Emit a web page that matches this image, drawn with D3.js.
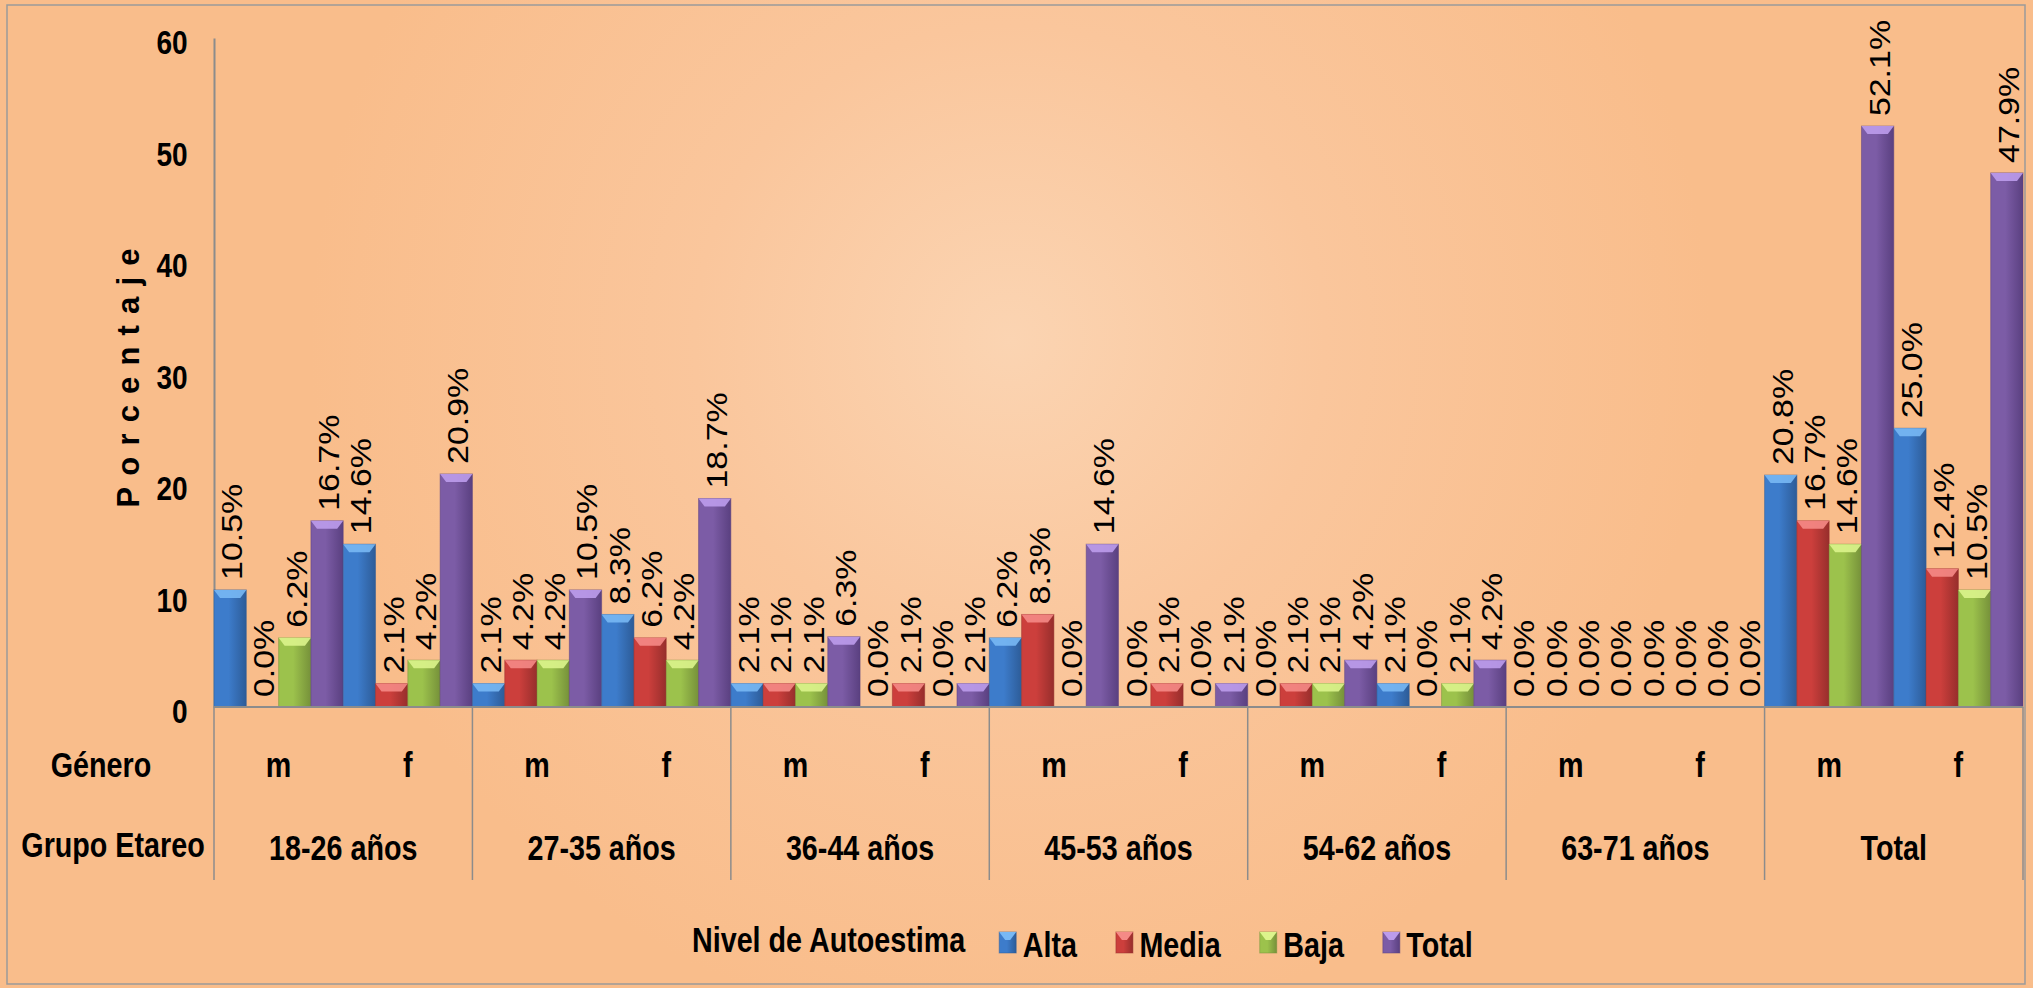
<!DOCTYPE html>
<html>
<head>
<meta charset="UTF-8">
<title>Nivel de Autoestima</title>
<style>
body { margin: 0; background: #f9bf8e; }
svg { display: block; font-family: 'Liberation Sans', Arial, sans-serif; }
</style>
</head>
<body>
<script src="https://cdn.jsdelivr.net/npm/d3@7"></script>
<script>
// categories
var grupos = ['18-26 años', '27-35 años', '36-44 años', '45-53 años', '54-62 años', '63-71 años', 'Total'];
var generos = ['m', 'f'];
var niveles = ['Alta', 'Media', 'Baja', 'Total'];
// values per (grupo, genero), in order 18-26 m, 18-26 f, 27-35 m, ...
var alta  = [10.5, 14.6, 2.1, 8.3, 2.1, 0.0, 6.2, 0.0, 0.0, 2.1, 0.0, 0.0, 20.8, 25.0];
var media = [0.0, 2.1, 4.2, 6.2, 2.1, 2.1, 8.3, 2.1, 2.1, 0.0, 0.0, 0.0, 16.7, 12.4];
var baja  = [6.2, 4.2, 4.2, 4.2, 2.1, 0.0, 0.0, 0.0, 2.1, 2.1, 0.0, 0.0, 14.6, 10.5];
var total = [16.7, 20.9, 10.5, 18.7, 6.3, 2.1, 14.6, 2.1, 4.2, 4.2, 0.0, 0.0, 52.1, 47.9];
var yTicks = [0, 10, 20, 30, 40, 50, 60];

var W = 2033, H = 988;
var plotLeft = 214, plotRight = 2023, plotTop = 38, zero = 707;
var colors = {
  Alta:  { base: '#3d7ccb', light: '#78b8f4', dark: '#2d5c98' },
  Media: { base: '#cc3f3c', light: '#f58a86', dark: '#972e2c' },
  Baja:  { base: '#9cc24c', light: '#dcf48c', dark: '#76913a' },
  Total: { base: '#7c5ca6', light: '#bc9cec', dark: '#5a4080' }
};
var seriesVals = { Alta: alta, Media: media, Baja: baja, Total: total };

var svg = d3.select('body').append('svg').attr('width', W).attr('height', H);
var defs = svg.append('defs');

// background glow
var bg = defs.append('radialGradient').attr('id', 'bg')
  .attr('gradientUnits', 'userSpaceOnUse')
  .attr('cx', 1010).attr('cy', 340).attr('r', 700);
bg.append('stop').attr('offset', 0).attr('stop-color', '#fbd4b2');
bg.append('stop').attr('offset', 0.45).attr('stop-color', '#fac69c');
bg.append('stop').attr('offset', 1).attr('stop-color', '#f9bd8b');
svg.append('rect').attr('width', W).attr('height', H).attr('fill', 'url(#bg)');
svg.append('rect').attr('x', 7).attr('y', 5).attr('width', 2018).attr('height', 979)
  .attr('fill', 'none').attr('stroke', '#9a9a9a').attr('stroke-width', 1.5);

niveles.forEach(function (n) {
  var g = defs.append('linearGradient').attr('id', 'g' + n).attr('x1', 0).attr('x2', 1).attr('y1', 0).attr('y2', 0);
  g.append('stop').attr('offset', 0).attr('stop-color', colors[n].base);
  g.append('stop').attr('offset', 0.45).attr('stop-color', colors[n].base);
  g.append('stop').attr('offset', 1).attr('stop-color', colors[n].dark);
});

// scales
var y = d3.scaleLinear().domain([0, 60]).range([zero, plotTop]);
var xGrupo = d3.scaleBand().domain(grupos).range([plotLeft, plotRight]);
var xGenero = d3.scaleBand().domain(generos).range([0, xGrupo.bandwidth()]);
var xNivel = d3.scaleBand().domain(niveles).range([0, xGenero.bandwidth()]);

// flat list of bars
var bars = [];
grupos.forEach(function (gr, gi) {
  generos.forEach(function (ge, ei) {
    niveles.forEach(function (n) {
      bars.push({ grupo: gr, genero: ge, nivel: n, v: seriesVals[n][gi * 2 + ei] });
    });
  });
});
function bx(d) { return xGrupo(d.grupo) + xGenero(d.genero) + xNivel(d.nivel); }

// y axis
var yAxis = svg.append('g').attr('transform', 'translate(' + plotLeft + ',0)')
  .call(d3.axisLeft(y).tickValues(yTicks).tickSize(0).tickSizeOuter(0).tickPadding(31));
yAxis.select('.domain').attr('stroke', '#8c8c8c').attr('stroke-width', 2);
yAxis.selectAll('text').attr('font-size', 33).attr('font-weight', 'bold')
  .attr('font-family', "'Liberation Sans', Arial, sans-serif").attr('fill', '#000')
  .attr('dy', '0.47em').attr('transform', 'scale(0.85,1)');

svg.append('text')
  .attr('transform', 'translate(139,378) rotate(-90)')
  .attr('text-anchor', 'middle').attr('font-size', 31).attr('font-weight', 'bold')
  .attr('textLength', 259).attr('lengthAdjust', 'spacing')
  .text('Porcentaje');

// bars
var bw = xNivel.bandwidth();
var barG = svg.append('g');
barG.selectAll('rect.bar').data(bars.filter(function (d) { return d.v > 0; })).enter()
  .append('rect').attr('class', 'bar')
  .attr('x', bx).attr('width', bw)
  .attr('y', function (d) { return y(d.v); })
  .attr('height', function (d) { return zero - y(d.v); })
  .attr('fill', function (d) { return 'url(#g' + d.nivel + ')'; })
  .attr('stroke', function (d) { return colors[d.nivel].dark; })
  .attr('stroke-opacity', 0.5).attr('stroke-width', 1);
// top bevel
barG.selectAll('path.bevel').data(bars.filter(function (d) { return d.v > 0; })).enter()
  .append('path').attr('class', 'bevel')
  .attr('d', function (d) {
    var x0 = bx(d), x1 = x0 + bw, t = y(d.v), h = Math.min(8, zero - t);
    return 'M' + x0 + ',' + t + 'L' + x1 + ',' + t + 'L' + (x1 - 6) + ',' + (t + h) + 'L' + (x0 + 6) + ',' + (t + h) + 'Z';
  })
  .attr('fill', function (d) { return colors[d.nivel].light; }).attr('opacity', 0.9);

// value labels
svg.append('g').selectAll('text').data(bars).enter().append('text')
  .attr('transform', function (d) {
    return 'translate(' + (bx(d) + bw / 2 + 12) + ',' + (y(d.v) - 10) + ') rotate(-90) scale(1.15,1)';
  })
  .attr('font-size', 29.5).attr('fill', '#000')
  .text(function (d) { return d.v.toFixed(1) + '%'; });

// zero line
svg.append('line').attr('x1', plotLeft).attr('x2', plotRight).attr('y1', zero).attr('y2', zero)
  .attr('stroke', '#8c8c8c').attr('stroke-width', 2);

// category table
var sepX = grupos.map(function (g) { return xGrupo(g); }).concat([plotRight]);
svg.append('g').selectAll('line').data(sepX).enter().append('line')
  .attr('x1', function (d) { return d; }).attr('x2', function (d) { return d; })
  .attr('y1', zero).attr('y2', 880).attr('stroke', '#8c8c8c').attr('stroke-width', 1.5);

function narrow(parent, x, yy, txt, anchor) {
  return parent.append('text')
    .attr('transform', 'translate(' + x + ',' + yy + ') scale(0.82,1)')
    .attr('text-anchor', anchor || 'middle')
    .attr('font-size', 35).attr('font-weight', 'bold').attr('fill', '#000')
    .text(txt);
}
var tbl = svg.append('g');
narrow(tbl, 101, 777, 'Género');
narrow(tbl, 113, 857, 'Grupo Etareo');
grupos.forEach(function (g) {
  generos.forEach(function (ge) {
    narrow(tbl, xGrupo(g) + xGenero(ge) + xGenero.bandwidth() / 2, 777, ge);
  });
  narrow(tbl, xGrupo(g) + xGrupo.bandwidth() / 2, 860, g);
});

// legend
var leg = svg.append('g');
var lt = narrow(leg, 692, 952, 'Nivel de Autoestima', 'start');
var lx = 692 + lt.node().getComputedTextLength() * 0.82 + 34;
niveles.forEach(function (n) {
  leg.append('rect').attr('x', lx).attr('y', 932).attr('width', 17).attr('height', 21)
    .attr('fill', 'url(#g' + n + ')').attr('stroke', colors[n].dark).attr('stroke-opacity', 0.5);
  leg.append('path')
    .attr('d', 'M' + lx + ',932L' + (lx + 17) + ',932L' + (lx + 11) + ',940L' + (lx + 6) + ',940Z')
    .attr('fill', colors[n].light);
  var t = narrow(leg, lx + 23.5, 957, n, 'start');
  lx += 23.5 + t.node().getComputedTextLength() * 0.82 + 39;
});
</script>
</body>
</html>
